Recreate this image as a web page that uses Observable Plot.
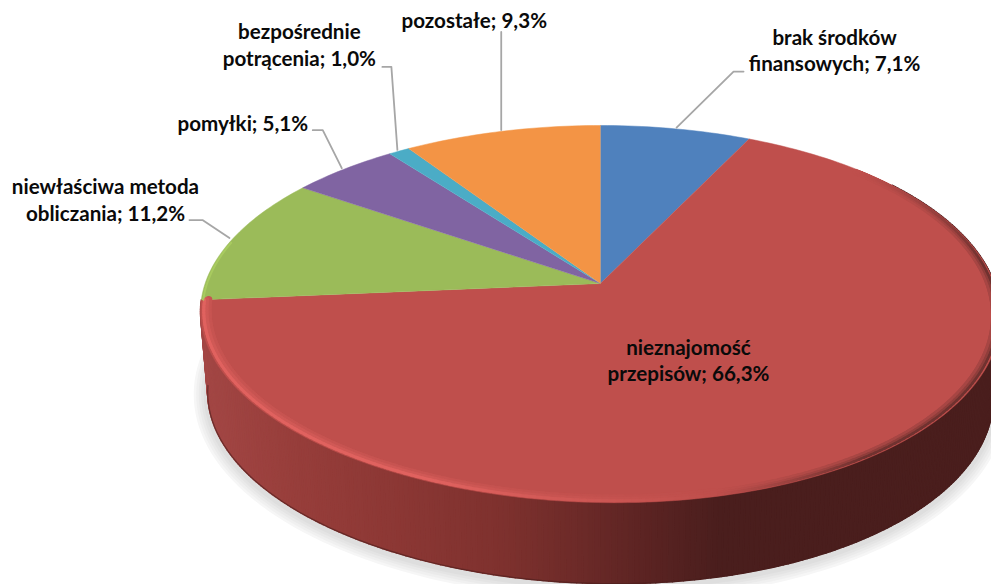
<!DOCTYPE html>
<html><head><meta charset="utf-8">
<style>html,body{margin:0;padding:0;background:#fff}</style>
<script src="https://cdn.jsdelivr.net/npm/d3@7"></script>
<script src="https://cdn.jsdelivr.net/npm/@observablehq/plot@0.6"></script>
</head><body><div id="chart"></div>
<script>
const categories = ["brak środków\nfinansowych","nieznajomość\nprzepisów","niewłaściwa metoda\nobliczania","pomyłki","bezpośrednie\npotrącenia","pozostałe"];
const shares = [7.1,66.3,11.2,5.1,1.0,9.3];
const percentLabels = ["7,1%","66,3%","11,2%","5,1%","1,0%","9,3%"];
const sliceColors = ["#4f81bd","#bf4f4c","#9bbb59","#8064a2","#4bacc6","#f39445"];

// layout of the fake-perspective disc (page pixels)
const view = {cx:600,cy:283,a:394.7,b:183.6,k:0.162,skew:8,depth:81,shrink:0.982};
// label block offset from the slice's rim point, leader elbow offsets
const labelOffset = [[158,-78],[0,-2],[-124,-39],[-99,-46],[-98,-106],[-27,-110]];
const leaderElbow = [[[57,-56],[67,-56]],null,[[-27,-18],[-40,-18]],[[-19,-38],[-29,-38]],[[-6,-83],[-15,-83]],[[0,-98]]];

const tau = 2*Math.PI;
function project(share, level=0, r=1){
  const t = share/100*tau, s = Math.sin(t)*r, c = Math.cos(t)*r;
  const w = 1+view.k*c;
  let x = view.cx+view.a*s/w, y = view.cy-view.b*c/w;
  y += view.skew*s*(1-c)*(1-c)/4;
  if(level){ x = view.cx+(x-view.cx)*view.shrink; y += view.depth; }
  return {x,y};
}
const cum = d3.cumsum(shares);
const starts = shares.map((v,i)=>cum[i]-v);

// top faces
const tops = shares.flatMap((v,i)=>{
  const n = Math.max(4,Math.ceil(v*3));
  const pts = [{x:view.cx,y:view.cy,i}];
  for(let j=0;j<=n;j++) pts.push({...project(starts[i]+v*j/n),i});
  return pts.map(p=>({...p,fill:sliceColors[i]}));
});

// side wall of the big slice
const sideShade = d3.scaleLinear()
  .domain([205,300,400,500,580,650,720,991])
  .range(["#a24644","#963d3a","#8b3734","#7e312e","#6c2a28","#5a2322","#4a1e1d","#4a1e1d"])
  .interpolate(d3.interpolateRgb);
const side = [];
const sideStart = 15, sideEnd = cum[1];
const steps = 300;
for(let j=0;j<steps;j++){
  const s0 = sideStart+(sideEnd-sideStart)*j/steps, s1 = sideStart+(sideEnd-sideStart)*(j+1)/steps;
  const a=project(s0),b=project(s1),c=project(s1,1),d=project(s0,1);
  const col = sideShade((a.x+b.x)/2);
  [a,b,c,d,a].forEach(p=>side.push({...p,seg:j,fill:col}));
}
// ground shadow
const shadow = d3.range(15,cum[1]+6,0.5).map(s=>{const p=project(s,1);return {x:p.x,y:p.y+2};});
const bottomEdge = d3.range(30,cum[1]+0.01,0.5).map(s=>project(s,1));

// bevel highlights: short opaque segments, narrower = stronger, inset by half the width
function rimSegments(from,to,w,colorAt){
  const r = 1-(w/2)/190;
  const out=[]; let seg=0;
  for(let s=from;s<to;s+=0.25,seg++){
    const c=colorAt(s);
    out.push({...project(s,0,r),seg,c},{...project(Math.min(s+0.32,to),0,r),seg,c});
  }
  return out;
}
const rimLightLayer = (w,mix) => rimSegments(46,cum[1],w,s=>d3.interpolateRgb("#bf4f4c","#e0625f")(Math.min(1,(s-46)/10)*mix));
const rimDarkLayer = (w,mix) => rimSegments(13,46,w,s=>d3.interpolateRgb("#bf4f4c","#703230")(Math.min(1,(s-13)/10)*Math.min(1,(46-s)/6)*mix));
const rimGreen = d3.range(cum[1],cum[2]-6,0.2).map(s=>project(s,0,0.995));

// leaders and labels
const anchors = shares.map((v,i)=>project(starts[i]+v/2,0,1.01));
const leaders = leaderElbow.flatMap((el,i)=> el ? [anchors[i],...el.map(([dx,dy])=>({x:anchors[i].x+dx,y:anchors[i].y+dy}))].map(p=>({...p,i})) : []);
const labels = categories.map((name,i)=>{
  const base = i===1 ? {x:688,y:361} : anchors[i];
  return {x:base.x+labelOffset[i][0],y:base.y+labelOffset[i][1],text:name+"; "+percentLabels[i]};
});

const xy = {x:"x",y:"y"};
const chart = Plot.plot({
  width:991,height:584,margin:0,
  style:{fontFamily:"Lato, 'Noto Sans', sans-serif",background:"#fff"},
  x:{domain:[0,991],range:[0,991],axis:null},
  y:{domain:[0,584],range:[0,584],axis:null},
  color:{type:"identity"},
  marks:[
    [[28,"#f6f6f6"],[23,"#f0f0f0"],[18,"#eaeaea"],[13,"#e4e4e4"],[8,"#dedede"]].map(([w,c])=>Plot.line(shadow,{...xy,stroke:c,strokeWidth:w})),
    Plot.line(side,{...xy,z:"seg",fill:"fill",stroke:"fill",strokeWidth:1.5}),
    Plot.line(bottomEdge,{...xy,stroke:"#4a1e1d",strokeWidth:1.2,strokeOpacity:0.6}),
    Plot.line(tops,{...xy,z:"i",fill:"fill",stroke:"fill",strokeWidth:0.5}),
    [[6,0.3],[4,0.6],[2.5,1]].map(([w,m])=>Plot.line(rimDarkLayer(w,m),{...xy,z:"seg",stroke:"c",strokeWidth:w})),
    [[7,0.25],[5,0.5],[3,1]].map(([w,m])=>Plot.line(rimLightLayer(w,m),{...xy,z:"seg",stroke:"c",strokeWidth:w})),
    Plot.line(rimGreen,{...xy,stroke:"#aed163",strokeWidth:2,strokeOpacity:0.7}),
    Plot.line(leaders,{...xy,z:"i",stroke:"#a6a6a6",strokeWidth:1.8}),
    Plot.text(labels,{...xy,text:"text",fill:"#0a0a0a",fontSize:20.6,fontWeight:700,lineHeight:1.29,textAnchor:"middle"})
  ]
});
document.getElementById("chart").append(chart);
</script></body></html>
